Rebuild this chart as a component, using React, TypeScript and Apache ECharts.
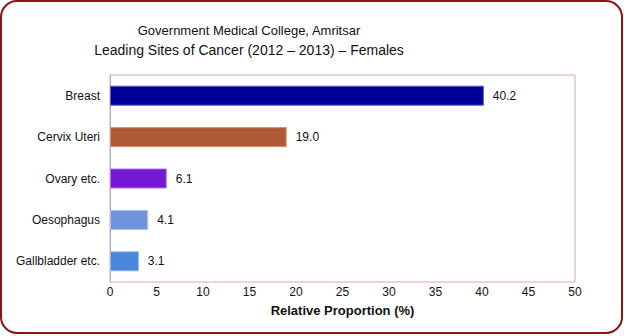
import React, { useEffect, useRef } from "react";
import * as echarts from "echarts";

const categories = ["Breast", "Cervix Uteri", "Ovary etc.", "Oesophagus", "Gallbladder etc."];
const values = [40.2, 19.0, 6.1, 4.1, 3.1];
const barColors = ["#000099", "#B05A35", "#7518D3", "#7093DC", "#4A86DC"];
const borderColors = ["#5a5ad0", "#d09070", "#b070f0", "#a8c0f0", "#90b8f0"];
const titleLines = ["Government Medical College, Amritsar", "Leading Sites of Cancer (2012 – 2013) – Females"];
const axisName = "Relative Proportion (%)";

export default function App() {
  const ref = useRef<HTMLDivElement>(null);
  useEffect(() => {
    if (!ref.current) return;
    const chart = echarts.init(ref.current, null, { renderer: "svg" });
    const font = "Liberation Sans";
    chart.setOption({
      animation: false,
      backgroundColor: "#ffffff",
      textStyle: { fontFamily: font },
      graphic: [
        {
          type: "rect",
          shape: { x: 1, y: 1, width: 621, height: 332, r: 16 },
          style: { fill: "none", stroke: "#8B1414", lineWidth: 2 },
          z: 10,
        },
        {
          type: "text",
          x: 249,
          y: 30,
          style: { text: titleLines[0], font: `13px '${font}'`, fill: "#111", textAlign: "center", textVerticalAlign: "middle" },
        },
        {
          type: "text",
          x: 249,
          y: 50,
          style: { text: titleLines[1], font: `14px '${font}'`, fill: "#111", textAlign: "center", textVerticalAlign: "middle" },
        },
      ],
      grid: {
        left: 110,
        right: 49,
        top: 75,
        bottom: 54,
        show: true,
        borderColor: "#DBA8A8",
        borderWidth: 1,
        backgroundColor: "#ffffff",
      },
      xAxis: {
        type: "value",
        min: 0,
        max: 50,
        interval: 5,
        name: axisName,
        nameLocation: "middle",
        nameGap: 22,
        nameTextStyle: { fontSize: 13, fontWeight: "bold", color: "#111", fontFamily: font },
        axisLine: { show: false },
        axisTick: { show: false },
        splitLine: { show: false },
        axisLabel: { fontSize: 12, color: "#111", margin: 4, fontFamily: font },
      },
      yAxis: {
        type: "category",
        inverse: true,
        data: categories,
        axisLine: { show: true, lineStyle: { color: "#A8B4C8", width: 1 } },
        axisTick: { show: false },
        axisLabel: { fontSize: 12, color: "#111", margin: 10, fontFamily: font },
      },
      series: [
        {
          type: "bar",
          barWidth: 20,
          data: values.map((v, i) => ({
            value: v,
            itemStyle: { color: barColors[i], borderColor: borderColors[i], borderWidth: 1 },
          })),
          label: {
            show: true,
            position: "right",
            distance: 9,
            fontSize: 12,
            color: "#111",
            fontFamily: font,
            formatter: (p: any) => Number(p.value).toFixed(1),
          },
        },
      ],
    });
    return () => chart.dispose();
  }, []);
  return <div ref={ref} style={{ position: "fixed", left: 0, top: 0, width: 624, height: 336 }} />;
}
